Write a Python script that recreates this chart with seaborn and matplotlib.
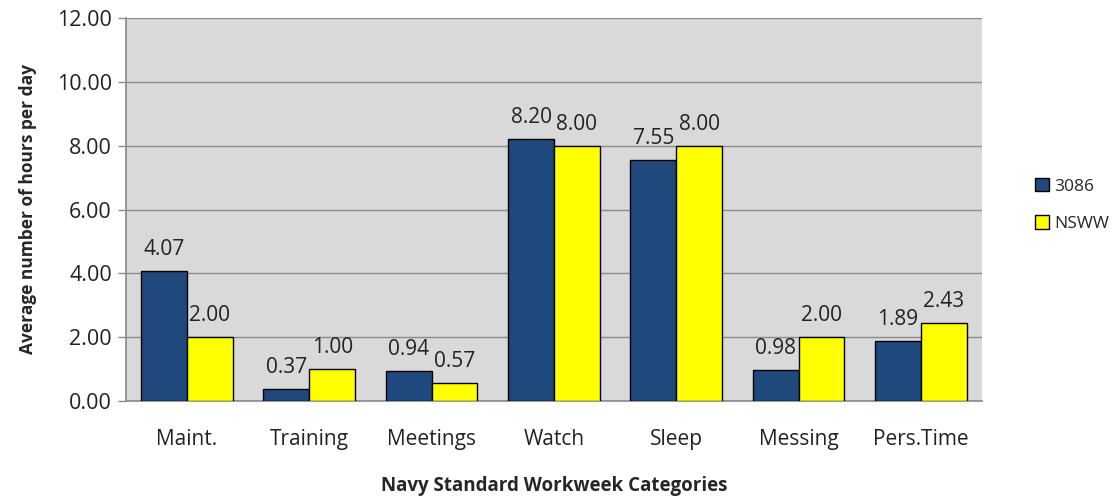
import matplotlib
matplotlib.use("Agg")
import matplotlib.pyplot as plt
import seaborn as sns
import pandas as pd

categories = ["Maint.", "Training", "Meetings", "Watch", "Sleep", "Messing", "Pers.Time"]
series_names = ["3086", "NSWW"]
values_3086 = [4.07, 0.37, 0.94, 8.20, 7.55, 0.98, 1.89]
values_nsww = [2.00, 1.00, 0.57, 8.00, 8.00, 2.00, 2.43]
yticks = [0, 2, 4, 6, 8, 10, 12]

df = pd.DataFrame({
    "cat": categories * 2,
    "series": [series_names[0]] * len(categories) + [series_names[1]] * len(categories),
    "val": values_3086 + values_nsww,
})

sns.set_theme(style="white")
plt.rcParams['font.family'] = ['Open Sans', 'DejaVu Sans']

fig = plt.figure(figsize=(11.14, 5.0), dpi=100)
ax = fig.add_axes([0.113, 0.198, 0.7685, 0.766])
ax.set_facecolor("#D9D9D9")

sns.barplot(data=df, x="cat", y="val", hue="series", order=categories,
            hue_order=series_names, palette=["#1F497D", "#FFFF00"], saturation=1,
            width=0.75, edgecolor="black", linewidth=1.0, ax=ax, legend=True, zorder=3)

for cont in ax.containers:
    ax.bar_label(cont, fmt="%.2f", padding=8, fontsize=15, color="#222222")

ax.set_ylim(0, 12)
ax.set_yticks(yticks)
ax.set_yticklabels([f"{v:.2f}" for v in yticks], fontsize=15.5, color="#222222")
ax.yaxis.grid(True, color="#8C8C8C", linewidth=1.0, zorder=0)
ax.set_axisbelow(True)
ax.set_xlim(-0.5, len(categories) - 0.5)
ax.set_xticks(range(len(categories)))
ax.set_xticklabels(categories, fontsize=15, color="#222222")
ax.tick_params(axis="x", length=0, pad=20)
ax.set_xticks([i + 0.5 for i in range(-1, len(categories))], minor=True)
ax.tick_params(axis="x", which="minor", length=8, color="#8C8C8C", width=1, direction="out")
ax.tick_params(axis="y", length=6, color="#8C8C8C", width=1, direction="out", pad=4, left=True)

for s in ["top", "right"]:
    ax.spines[s].set_visible(False)
ax.spines["left"].set_color("#8C8C8C")
ax.spines["bottom"].set_color("#8C8C8C")

ax.set_xlabel("Navy Standard Workweek Categories", fontsize=13.5, fontweight="bold", labelpad=19)
ax.set_ylabel("Average number of hours per day", fontsize=12.5, fontweight="bold", labelpad=14)

ax.legend(loc="center left", bbox_to_anchor=(0.915, 0.59), bbox_transform=fig.transFigure,
          frameon=False, fontsize=12.5, handlelength=0.8, handleheight=0.8,
          handletextpad=0.3, labelspacing=1.2)

fig.savefig("out.png", dpi=100, facecolor="white")
